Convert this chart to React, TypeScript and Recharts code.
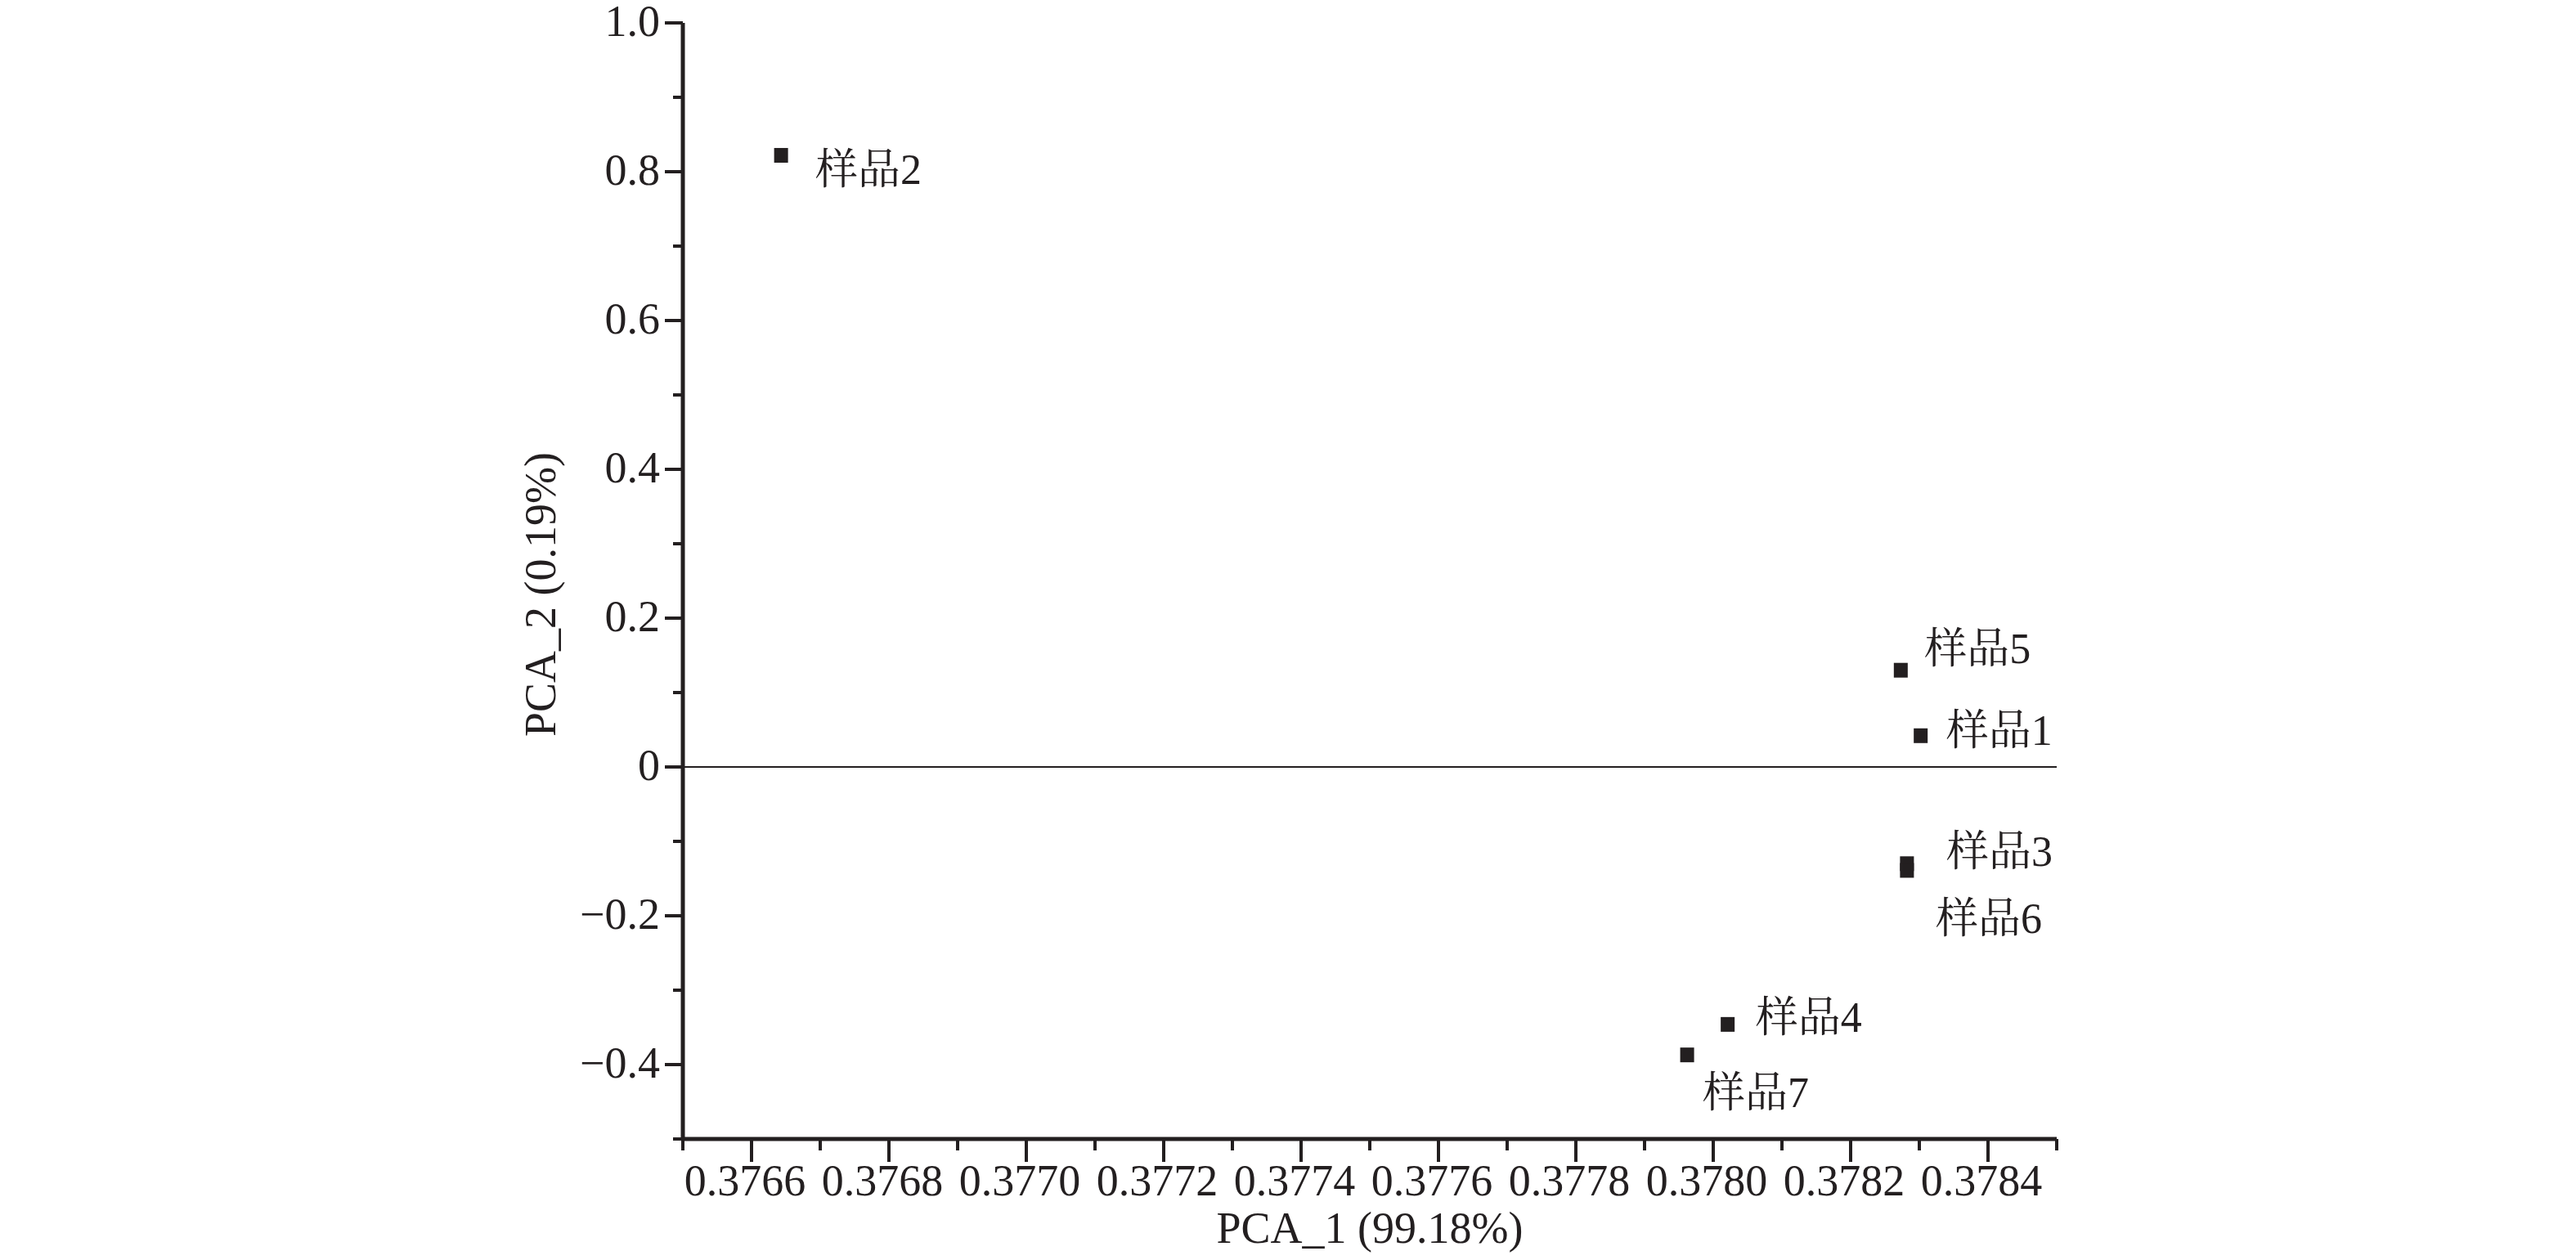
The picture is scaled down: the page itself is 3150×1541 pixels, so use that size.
import { ScatterChart, Scatter, XAxis, YAxis, ReferenceLine, Label } from "recharts";

// PCA scores of the seven samples
const SAMPLE_NAMES = ["样品1", "样品2", "样品3", "样品4", "样品5", "样品6", "样品7"];
const PCA_1 = [0.378302, 0.376643, 0.378282, 0.378021, 0.378273, 0.378282, 0.377962];
const PCA_2 = [0.042, 0.822, -0.13, -0.346, 0.13, -0.139, -0.387];

const X_MAJOR_TICKS = [0.3766, 0.3768, 0.377, 0.3772, 0.3774, 0.3776, 0.3778, 0.378, 0.3782, 0.3784];
const X_TICK_LABELS = ["0.3766", "0.3768", "0.3770", "0.3772", "0.3774", "0.3776", "0.3778", "0.3780", "0.3782", "0.3784"];
const X_MINOR_TICKS = [0.3765, 0.3767, 0.3769, 0.3771, 0.3773, 0.3775, 0.3777, 0.3779, 0.3781, 0.3783, 0.3785];

const Y_MAJOR_TICKS = [-0.4, -0.2, 0, 0.2, 0.4, 0.6, 0.8, 1.0];
const Y_TICK_LABELS = ["\u22120.4", "\u22120.2", "0", "0.2", "0.4", "0.6", "0.8", "1.0"];
const Y_MINOR_TICKS = [-0.5, -0.3, -0.1, 0.1, 0.3, 0.5, 0.7, 0.9];

const X_TICKS = [...X_MAJOR_TICKS, ...X_MINOR_TICKS].sort((a, b) => a - b);
const Y_TICKS = [...Y_MAJOR_TICKS, ...Y_MINOR_TICKS].sort((a, b) => a - b);

const points = SAMPLE_NAMES.map((name, i) => ({ name, x: PCA_1[i], y: PCA_2[i] }));

// where each sample's name sits relative to its marker (left edge, glyph middle)
const LABEL_OFFSETS: Record<string, [number, number]> = {
  "样品1": [31, -8],
  "样品2": [42, 16],
  "样品3": [48, -16],
  "样品4": [34, -10],
  "样品5": [29, -28],
  "样品6": [35, 58],
  "样品7": [19, 45],
};

const INK = "#231f20";
const FONT = "'Liberation Serif', 'Times New Roman', serif";
const CJK_FONT = "'Liberation Serif', 'Noto Serif CJK SC', 'Noto Sans CJK SC', serif";

const findIdx = (list: number[], v: number) => list.findIndex((t) => Math.abs(t - v) < 1e-7);

function XTick(props: any) {
  const { x, y, payload } = props;
  const i = findIdx(X_MAJOR_TICKS, payload.value);
  const major = i >= 0;
  return (
    <g>
      <line x1={x} x2={x} y1={y} y2={y + (major ? 28 : 14)} stroke={INK} strokeWidth={4} />
      {major && (
        <text x={x - 8} y={y + 69} textAnchor="middle" fontSize={54} fontFamily={FONT} fill={INK}>
          {X_TICK_LABELS[i]}
        </text>
      )}
    </g>
  );
}

function YTick(props: any) {
  const { x, y, payload } = props;
  const i = findIdx(Y_MAJOR_TICKS, payload.value);
  const major = i >= 0;
  return (
    <g>
      <line x1={x - (major ? 22 : 12)} x2={x} y1={y} y2={y} stroke={INK} strokeWidth={4} />
      {major && (
        <text x={x - 28} y={y + 16} textAnchor="end" fontSize={54} fontFamily={FONT} fill={INK}>
          {Y_TICK_LABELS[i]}
        </text>
      )}
    </g>
  );
}

function SamplePoint(props: any) {
  const { cx, cy } = props;
  const name = props.payload?.name ?? props.name;
  const [dx, dy] = LABEL_OFFSETS[name] ?? [30, 0];
  return (
    <g>
      <rect x={cx - 8.5} y={cy - 9} width={17} height={18} fill={INK} />
      <text x={cx + dx} y={cy + dy + 19} fontSize={52} fontFamily={CJK_FONT} fill={INK}>
        {name}
      </text>
    </g>
  );
}

export default function App() {
  return (
    <ScatterChart width={3134} height={1525} margin={{ top: 20, right: 627, bottom: 10, left: 527 }}>
      <XAxis
        type="number"
        dataKey="x"
        domain={[0.3765, 0.3785]}
        ticks={X_TICKS}
        interval={0}
        allowDataOverflow
        tick={<XTick />}
        tickLine={false}
        tickSize={0}
        tickMargin={0}
        axisLine={{ stroke: INK, strokeWidth: 5 }}
        height={130}
      >
        <Label
          content={() => (
            <text x={1667} y={1512} textAnchor="middle" fontSize={54} fontFamily={FONT} fill={INK}>
              PCA_1 (99.18%)
            </text>
          )}
        />
      </XAxis>
      <YAxis
        type="number"
        dataKey="y"
        domain={[-0.5, 1]}
        ticks={Y_TICKS}
        interval={0}
        allowDataOverflow
        tick={<YTick />}
        tickLine={false}
        tickSize={0}
        tickMargin={0}
        axisLine={{ stroke: INK, strokeWidth: 5 }}
        width={300}
      >
        <Label
          content={() => (
            <text
              x={653}
              y={719}
              transform="rotate(-90 653 719)"
              textAnchor="middle"
              dominantBaseline="central"
              fontSize={54}
              fontFamily={FONT}
              fill={INK}
            >
              PCA_2 (0.19%)
            </text>
          )}
        />
      </YAxis>
      <ReferenceLine y={0} stroke={INK} strokeWidth={2} />
      <Scatter data={points} shape={<SamplePoint />} isAnimationActive={false} />
    </ScatterChart>
  );
}
